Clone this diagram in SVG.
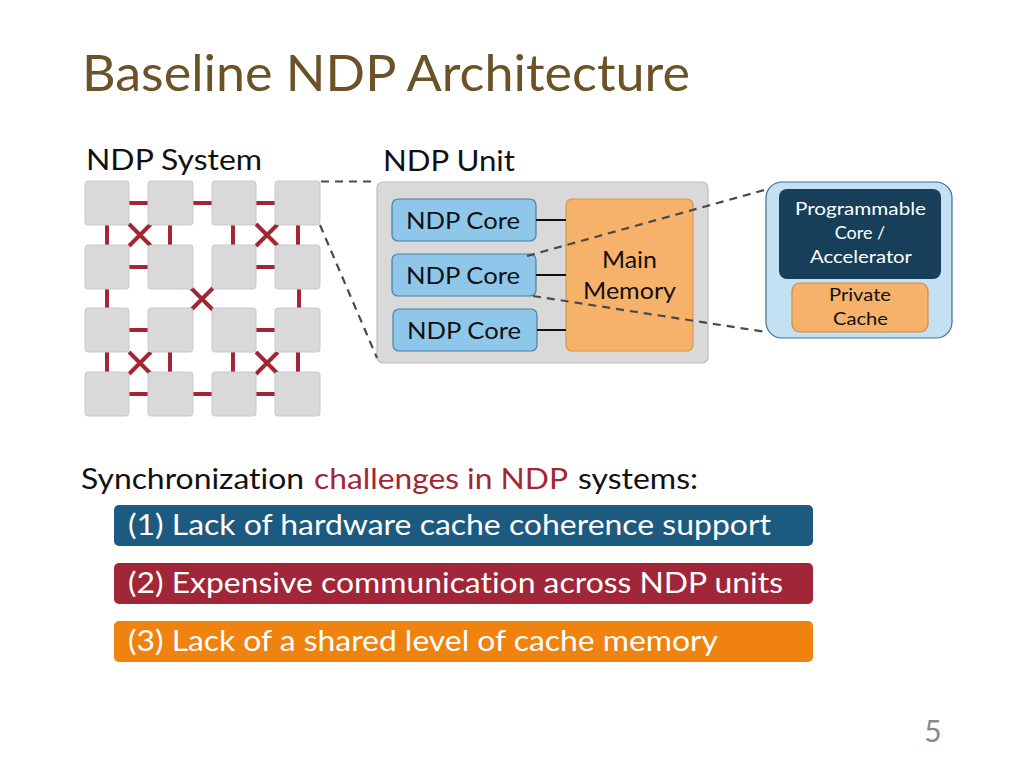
<svg xmlns="http://www.w3.org/2000/svg" width="1024" height="768" viewBox="0 0 1024 768">
<style>
text{font-family:Lato,"Noto Sans","Liberation Sans",sans-serif;font-variant-ligatures:none}
.sq{fill:#d9d9d9;stroke:#c9c9c9;stroke-width:1}
.lk{stroke:#a02733;stroke-width:4;fill:none}
.dash{stroke:#4a4a4a;stroke-width:2.2;stroke-dasharray:8 6;fill:none}
.core{fill:#8fc7ea;stroke:#4b7fa3;stroke-width:1.2}
.mem{fill:#f6b26b;stroke:#d99650;stroke-width:1.2}
.blk{stroke:#111;stroke-width:2}
.t24{font-size:24px;fill:#111}
.w28{font-size:28px;fill:#fff}
.s17{font-size:18px}
</style>
<rect width="1024" height="768" fill="#fff"/>
<text x="82" y="91" font-size="50" fill="#6b5227" textLength="608" lengthAdjust="spacingAndGlyphs">Baseline NDP Architecture</text>
<text x="86" y="170" font-size="28" fill="#111" textLength="176" lengthAdjust="spacingAndGlyphs">NDP System</text>
<text x="383" y="171" font-size="28" fill="#111" textLength="132" lengthAdjust="spacingAndGlyphs">NDP Unit</text>

<g id="ndp-system">
<g class="lk">
<line x1="129" y1="203" x2="149" y2="203"/><line x1="193" y1="203" x2="212" y2="203"/><line x1="256" y1="203" x2="276" y2="203"/>
<line x1="129" y1="267" x2="149" y2="267"/><line x1="256" y1="267" x2="276" y2="267"/>
<line x1="129" y1="330" x2="149" y2="330"/><line x1="256" y1="330" x2="276" y2="330"/>
<line x1="129" y1="394" x2="149" y2="394"/><line x1="193" y1="394" x2="212" y2="394"/><line x1="256" y1="394" x2="276" y2="394"/>
<line x1="107" y1="225" x2="107" y2="246"/><line x1="170" y1="225" x2="170" y2="246"/><line x1="233" y1="225" x2="233" y2="246"/><line x1="298" y1="225" x2="298" y2="246"/>
<line x1="107" y1="289" x2="107" y2="308"/><line x1="299" y1="289" x2="299" y2="308"/>
<line x1="107" y1="352" x2="107" y2="372"/><line x1="170" y1="352" x2="170" y2="372"/><line x1="233" y1="352" x2="233" y2="372"/><line x1="298" y1="352" x2="298" y2="372"/>
<path d="M129 224L151 246M151 224L129 246"/>
<path d="M256 224L278 246M278 224L256 246"/>
<path d="M191 288L213 310M213 288L191 310"/>
<path d="M129 352L151 374M151 352L129 374"/>
<path d="M256 352L278 374M278 352L256 374"/>
</g>
<rect class="sq" x="85" y="181" width="44" height="44" rx="3"/><rect class="sq" x="148" y="181" width="45" height="44" rx="3"/><rect class="sq" x="212" y="181" width="44" height="44" rx="3"/><rect class="sq" x="275" y="181" width="45" height="44" rx="3"/>
<rect class="sq" x="85" y="245" width="44" height="44" rx="3"/><rect class="sq" x="148" y="245" width="45" height="44" rx="3"/><rect class="sq" x="212" y="245" width="44" height="44" rx="3"/><rect class="sq" x="275" y="245" width="45" height="44" rx="3"/>
<rect class="sq" x="85" y="308" width="44" height="44" rx="3"/><rect class="sq" x="148" y="308" width="45" height="44" rx="3"/><rect class="sq" x="212" y="308" width="44" height="44" rx="3"/><rect class="sq" x="275" y="308" width="45" height="44" rx="3"/>
<rect class="sq" x="85" y="372" width="44" height="44" rx="3"/><rect class="sq" x="148" y="372" width="45" height="44" rx="3"/><rect class="sq" x="212" y="372" width="44" height="44" rx="3"/><rect class="sq" x="275" y="372" width="45" height="44" rx="3"/>
</g>

<g id="ndp-unit">
<rect x="377" y="182" width="331" height="181" rx="6" fill="#d9d9d9" stroke="#bdbdbd" stroke-width="1.2"/>
</g>
<g id="core1"><rect class="core" x="392" y="199" width="144" height="42" rx="6"/><text class="t24" x="406" y="229" textLength="114" lengthAdjust="spacingAndGlyphs">NDP Core</text></g>
<g id="core2"><rect class="core" x="392" y="254" width="144" height="42" rx="6"/><text class="t24" x="406" y="284" textLength="114" lengthAdjust="spacingAndGlyphs">NDP Core</text></g>
<g id="core3"><rect class="core" x="393" y="309" width="144" height="42" rx="6"/><text class="t24" x="407" y="339" textLength="114" lengthAdjust="spacingAndGlyphs">NDP Core</text></g>
<g id="main-memory"><rect class="mem" x="566" y="199" width="127" height="152" rx="6"/><text class="t24" x="602" y="268" textLength="55" lengthAdjust="spacingAndGlyphs">Main</text><text class="t24" x="583" y="299" textLength="93" lengthAdjust="spacingAndGlyphs">Memory</text></g>

<g id="ndp-core-detail">
<rect x="766" y="182" width="186" height="156" rx="16" fill="#c4e0f3" stroke="#3e6e8e" stroke-width="1.2"/>
<rect x="779" y="189" width="162" height="90" rx="8" fill="#173f5a"/>
<text class="s17" fill="#fff" x="795" y="215" textLength="131" lengthAdjust="spacingAndGlyphs">Programmable</text>
<text class="s17" fill="#fff" x="860" y="239" text-anchor="middle">Core /</text>
<text class="s17" fill="#fff" x="810" y="263" textLength="102" lengthAdjust="spacingAndGlyphs">Accelerator</text>
<rect x="792" y="283" width="136" height="49" rx="8" fill="#f6b26b" stroke="#d58a3a" stroke-width="1.2"/>
<text class="s17" fill="#111" x="829" y="301" textLength="62" lengthAdjust="spacingAndGlyphs">Private</text>
<text class="s17" fill="#111" x="833" y="325" textLength="55" lengthAdjust="spacingAndGlyphs">Cache</text>
</g>

<g id="connectors">
<line class="blk" x1="536" y1="220" x2="566" y2="220"/>
<line class="blk" x1="536" y1="275" x2="566" y2="275"/>
<line class="blk" x1="537" y1="330" x2="566" y2="330"/>
<line class="dash" x1="321" y1="181.5" x2="377" y2="181.5"/>
<line class="dash" x1="320" y1="225" x2="377" y2="358"/>
<line class="dash" x1="527" y1="256" x2="768" y2="189"/>
<line class="dash" x1="533" y1="296" x2="766" y2="332"/>
</g>

<text x="81" y="489" font-size="28" fill="#111" textLength="223" lengthAdjust="spacingAndGlyphs">Synchronization</text>
<text x="314" y="489" font-size="28" fill="#a02733" textLength="254" lengthAdjust="spacingAndGlyphs">challenges in NDP</text>
<text x="578" y="489" font-size="28" fill="#111" textLength="120" lengthAdjust="spacingAndGlyphs">systems:</text>

<g id="challenge1"><rect x="114" y="505" width="699" height="41" rx="5" fill="#1d5a7f"/><text class="w28" x="128" y="535" textLength="643" lengthAdjust="spacingAndGlyphs">(1) Lack of hardware cache coherence support</text></g>
<g id="challenge2"><rect x="114" y="563" width="699" height="41" rx="5" fill="#a02638"/><text class="w28" x="128" y="593" textLength="655" lengthAdjust="spacingAndGlyphs">(2) Expensive communication across NDP units</text></g>
<g id="challenge3"><rect x="114" y="621" width="699" height="41" rx="5" fill="#f0820f"/><text class="w28" x="128" y="651" textLength="590" lengthAdjust="spacingAndGlyphs">(3) Lack of a shared level of cache memory</text></g>

<text x="933" y="742" font-size="30" fill="#8a8a8a" text-anchor="middle">5</text>
</svg>
